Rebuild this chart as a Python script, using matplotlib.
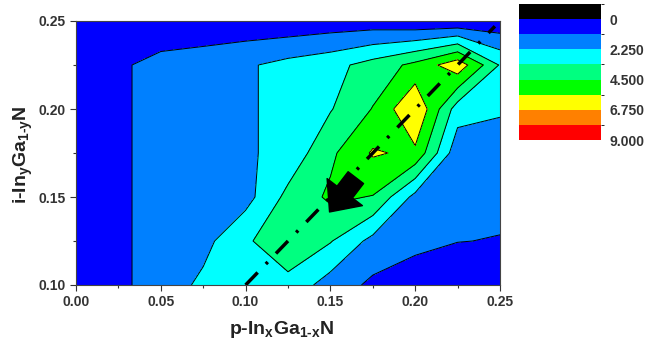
import numpy as np
import matplotlib
matplotlib.use('Agg')
import matplotlib.pyplot as plt
from matplotlib.colors import ListedColormap, BoundaryNorm
from matplotlib.colorbar import ColorbarBase

plt.rcParams['font.family'] = ['Liberation Sans', 'DejaVu Sans']
plt.rcParams['mathtext.fontset'] = 'custom'
plt.rcParams['mathtext.rm'] = 'Liberation Sans:bold'
plt.rcParams['mathtext.bf'] = 'Liberation Sans:bold'
plt.rcParams['mathtext.it'] = 'Liberation Sans:bold'
plt.rcParams['mathtext.default'] = 'bf'

# grid of p-InGaN (x) and i-InGaN (y) compositions
x_comp = [0.0, 0.025, 0.05, 0.075, 0.10, 0.125, 0.15, 0.175, 0.20, 0.225, 0.25]
y_comp = [0.10, 0.125, 0.15, 0.175, 0.20, 0.225, 0.25]

# values, one row per y_comp
z_rows = [
    [0.6, 0.9, 1.6, 2.5, 2.9, 3.02, 1.74, 0.9, 0.35, 0.3, 0.3],
    [0.6, 0.9, 1.6, 1.9, 3.2, 4.2, 3.45, 1.9, 1.5, 1.15, 1.08],
    [0.6, 0.9, 1.6, 1.8, 1.84, 3.69, 4.7, 4.45, 1.9, 1.5, 1.4],
    [0.6, 0.9, 1.6, 1.8, 2.1, 2.6, 4.27, 5.75, 5.4, 1.5, 1.6],
    [0.6, 0.9, 1.6, 1.8, 2.1, 2.6, 3.3, 4.55, 6.74, 2.8, 2.4],
    [0.6, 0.9, 1.6, 1.8, 2.1, 2.6, 3.0, 3.81, 4.8, 6.365, 3.28],
    [0.3, 0.3, 0.05, 0.2, 0.3, 0.28, 0.43, 0.45, 0.2, 0.13, 0.29],
]

levels = [-1.125, 0, 1.125, 2.25, 3.375, 4.5, 5.625, 6.75, 7.875, 9.0]
band_colors = ['#000000', '#0000ff', '#0080ff', '#00ffff', '#00ff80',
               '#00ff00', '#ffff00', '#ff8000', '#ff0000']
cbar_ticks = [0, 2.25, 4.5, 6.75, 9.0]
cbar_labels = ['0', '2.250', '4.500', '6.750', '9.000']

# dash-dot guide line x = y
guide_x = [0.10, 0.247]
guide_y = [0.10, 0.247]

arrow_tip = (0.1495, 0.1415)
arrow_tail = (0.1650, 0.1610)

x_ticks = [0.00, 0.05, 0.10, 0.15, 0.20, 0.25]
y_ticks = [0.10, 0.15, 0.20, 0.25]

X, Y = np.meshgrid(x_comp, y_comp)
Z = np.array(z_rows)

fig = plt.figure(figsize=(6.52, 3.43), dpi=100)
ax = fig.add_axes([76 / 652, 58 / 343, 424 / 652, 264 / 343])
cax = fig.add_axes([519 / 652, 203 / 343, 82 / 652, 136 / 343])

cmap = ListedColormap(band_colors)
norm = BoundaryNorm(levels, cmap.N)

ax.contourf(X, Y, Z, levels=levels, colors=band_colors)
ax.contour(X, Y, Z, levels=levels[2:7], colors='black', linewidths=0.7)

ax.plot(guide_x, guide_y, color='black', lw=2.5,
        linestyle=(0, (5.0, 3.4, 0.8, 3.4)))

ax.annotate('', xy=arrow_tip, xytext=arrow_tail,
            arrowprops=dict(arrowstyle='simple,head_width=3.2,head_length=1.8,tail_width=1.4',
                            color='black', shrinkA=0, shrinkB=0))

ax.set_xlim(0, 0.25)
ax.set_ylim(0.10, 0.25)
ax.set_xticks(x_ticks)
ax.set_yticks(y_ticks)
ax.set_xticks(np.arange(0.025, 0.25, 0.05), minor=True)
ax.set_yticks(np.arange(0.125, 0.25, 0.05), minor=True)
ax.set_xticklabels(['%.2f' % v for v in x_ticks])
ax.set_yticklabels(['%.2f' % v for v in y_ticks])
ax.tick_params(which='major', direction='out', length=4, width=0.8,
               colors='#333333', labelsize=10)
ax.tick_params(which='minor', direction='out', length=2.5, width=0.8, colors='#333333')
for lab in ax.get_xticklabels() + ax.get_yticklabels():
    lab.set_fontweight('bold')
for sp in ax.spines.values():
    sp.set_color('#444444')
    sp.set_linewidth(0.8)

fig.text(282 / 652, 1 - 329 / 343, r'p-In$_{x}$Ga$_{1\text{-}x}$N',
         ha='center', va='center', fontsize=14, fontweight='bold', color='#222222')
fig.text(23 / 652, 1 - 155 / 343, r'i-In$_{y}$Ga$_{1\text{-}y}$N', rotation=90,
         ha='center', va='center', fontsize=14, fontweight='bold', color='#222222')

cb = ColorbarBase(cax, cmap=cmap, norm=norm, boundaries=levels,
                  orientation='vertical', ticks=cbar_ticks)
cax.invert_yaxis()
cb.outline.set_visible(False)
cb.set_ticklabels(cbar_labels)
cax.tick_params(length=0, labelsize=10, colors='#333333', pad=6)
for lab in cax.get_yticklabels():
    lab.set_fontweight('bold')

fig.savefig('out.png', dpi=100)
